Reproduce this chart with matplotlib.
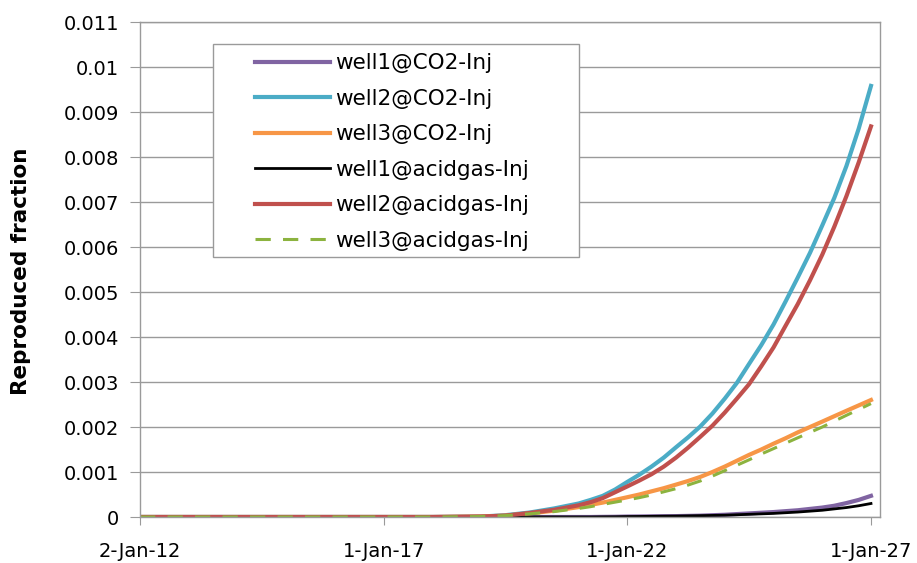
import pandas as pd
import matplotlib.pyplot as plt
from matplotlib.patches import Rectangle

# output dates: yearly, half-yearly, then quarterly once leakage takes off
tanggal = pd.to_datetime([
    '2012-01-02', '2013-01-01', '2014-01-01', '2015-01-01', '2016-01-01', '2017-01-01', '2018-01-01',
    '2019-01-01', '2019-07-01', '2020-01-01', '2020-07-01',
    '2021-01-01', '2021-04-01', '2021-07-01', '2021-10-01',
    '2022-01-01', '2022-04-01', '2022-07-01', '2022-10-01',
    '2023-01-01', '2023-04-01', '2023-07-01', '2023-10-01',
    '2024-01-01', '2024-04-01', '2024-07-01', '2024-10-01',
    '2025-01-01', '2025-04-01', '2025-07-01', '2025-10-01',
    '2026-01-01', '2026-04-01', '2026-07-01', '2026-10-01', '2027-01-01'])

nol = [0] * 7
well1_co2 = nol + [0, 0, 0, 0,
                   0, 0, 0.000003, 0.000005, 0.00001, 0.000012, 0.000015, 0.000018, 0.00002, 0.000025,
                   0.00003, 0.00004, 0.00005, 0.000065, 0.00008, 0.000095, 0.00011, 0.00013, 0.00015,
                   0.00018, 0.00021, 0.00025, 0.00031, 0.00038, 0.00047]
well2_co2 = nol + [0.00001, 0.00004, 0.0001, 0.00019,
                   0.0003, 0.00038, 0.00047, 0.00061, 0.00078, 0.00094, 0.00112, 0.00132, 0.00155, 0.00177,
                   0.00201, 0.0023, 0.00263, 0.00298, 0.0034, 0.00382, 0.00428, 0.00479, 0.00532,
                   0.00587, 0.00648, 0.00709, 0.0078, 0.00863, 0.00958]
well3_co2 = nol + [0.00001, 0.00003, 0.00008, 0.00014,
                   0.00022, 0.00027, 0.00032, 0.00038, 0.00044, 0.0005, 0.00057, 0.00064, 0.00072, 0.0008,
                   0.00089, 0.001, 0.00112, 0.00125, 0.00138, 0.0015, 0.00163, 0.00175, 0.00188,
                   0.002, 0.00212, 0.00224, 0.00236, 0.00248, 0.0026]
well1_acid = nol + [0, 0, 0, 0,
                    0, 0, 0.000003, 0.000005, 0.00001, 0.000012, 0.000015, 0.000018, 0.00002, 0.000025,
                    0.00003, 0.000035, 0.00004, 0.00005, 0.00006, 0.00007, 0.00008, 0.000095, 0.00011,
                    0.00013, 0.00015, 0.00018, 0.00021, 0.00025, 0.0003]
well2_acid = nol + [0.00001, 0.00003, 0.00009, 0.00016,
                    0.00026, 0.00033, 0.00042, 0.00055, 0.00068, 0.00081, 0.00095, 0.00112, 0.00132, 0.00154,
                    0.00178, 0.00203, 0.00232, 0.00263, 0.00295, 0.00335, 0.00377, 0.00425, 0.00473,
                    0.00526, 0.00583, 0.00645, 0.00713, 0.00788, 0.00868]
well3_acid = nol + [0.00001, 0.00003, 0.00007, 0.00012,
                    0.00019, 0.00023, 0.00028, 0.00033, 0.00038, 0.00043, 0.00049, 0.00056, 0.00063, 0.00071,
                    0.0008, 0.00091, 0.00103, 0.00115, 0.00127, 0.0014, 0.00152, 0.00164, 0.00176,
                    0.00188, 0.002, 0.00213, 0.00226, 0.00239, 0.00252]

tick_tanggal = pd.to_datetime(['2012-01-02', '2017-01-01', '2022-01-01', '2027-01-01'])
tick_label = ['2-Jan-12', '1-Jan-17', '1-Jan-22', '1-Jan-27']

abu = '#9a9a9a'

fig = plt.figure(figsize=(9.17, 5.63), dpi=100)
ax = fig.add_axes([0.1527, 0.0817, 0.8070, 0.8792])

ax.plot(tanggal, well1_co2, color='#8064A2', lw=3, label='well1@CO2-Inj')
ax.plot(tanggal, well2_co2, color='#4BACC6', lw=3, label='well2@CO2-Inj')
ax.plot(tanggal, well3_co2, color='#F79646', lw=3, label='well3@CO2-Inj')
ax.plot(tanggal, well1_acid, color='black', lw=2, label='well1@acidgas-Inj')
ax.plot(tanggal, well2_acid, color='#C0504D', lw=3, label='well2@acidgas-Inj')
ax.plot(tanggal, well3_acid, color='#8CB33F', lw=2.2, ls=(0, (5, 4)), label='well3@acidgas-Inj')

ax.set_ylim(0, 0.011)
ax.set_yticks([i / 1000 for i in range(12)])
ax.set_yticklabels(['0'] + ['%g' % (i / 1000) for i in range(1, 12)])
ax.set_xlim(tick_tanggal[0], pd.Timestamp('2027-03-10'))
ax.set_xticks(tick_tanggal)
ax.set_xticklabels(tick_label)

ax.grid(axis='y', color=abu, lw=1)
ax.set_axisbelow(True)
for s in ax.spines.values():
    s.set_color(abu)
    s.set_linewidth(1)
ax.tick_params(axis='y', length=7, color=abu, labelsize=14, pad=8)
ax.tick_params(axis='x', length=6, color=abu, labelsize=14, pad=12)

ax.set_ylabel('Reproduced fraction', fontsize=15.5, fontweight='bold')
ax.yaxis.set_label_coords(-0.147, 0.496)

# kotak legenda digambar sendiri supaya jarak kiri lebih lebar
ax.add_patch(Rectangle((0.0986, 0.5253), 0.4946, 0.4303, transform=ax.transAxes,
                       facecolor='white', edgecolor=abu, lw=1, zorder=4))
leg = ax.legend(loc='upper left', bbox_to_anchor=(0.1554, 0.937), borderaxespad=0,
                borderpad=0, fontsize=15.5, handlelength=3.49, handletextpad=0.23,
                labelspacing=0.72, frameon=False)
leg.set_zorder(5)

plt.savefig('out.png', dpi=100)
